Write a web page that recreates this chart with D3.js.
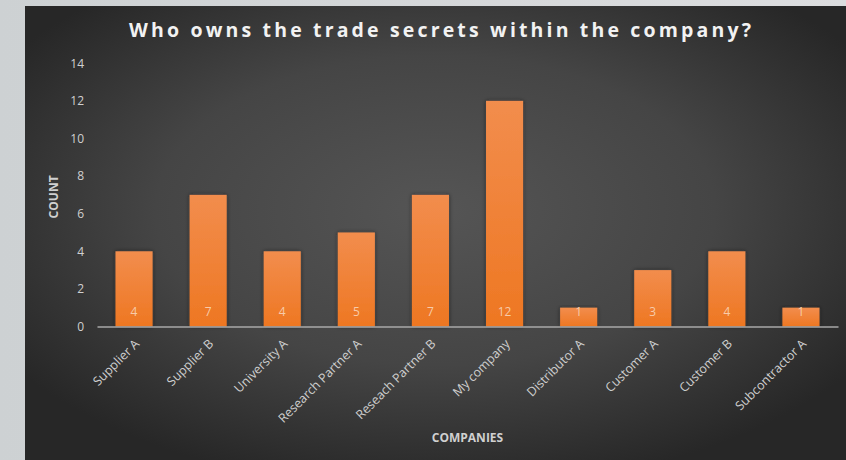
<!DOCTYPE html>
<html><head><meta charset="utf-8">
<script src="https://cdn.jsdelivr.net/npm/d3@7"></script>
<style>html,body{margin:0;padding:0;background:#d6d8da;overflow:hidden}</style>
</head><body>
<svg id="c" width="846" height="460"></svg>
<script>
const categories = ["Supplier A","Supplier B","University A","Research Partner A","Reseach Partner B","My company","Distributor A","Customer A","Customer B","Subcontractor A"];
const counts = [4,7,4,5,7,12,1,3,4,1];
const yTicks = [0,2,4,6,8,10,12,14];
const title = "Who owns the trade secrets within the company?";
const xTitle = "COMPANIES";
const yTitle = "COUNT";

const svg = d3.select("#c");
const defs = svg.append("defs");

const og = defs.append("linearGradient").attr("id","outer").attr("x1",0).attr("x2",1).attr("y1",0).attr("y2",0);
og.append("stop").attr("offset","0").attr("stop-color","#cdd1d3");
og.append("stop").attr("offset","1").attr("stop-color","#dcdddf");
svg.append("rect").attr("width",846).attr("height",460).attr("fill","url(#outer)");

const rg = defs.append("radialGradient").attr("id","panel").attr("cx","0.5").attr("cy","0.45").attr("r","0.62")
  .attr("gradientUnits","objectBoundingBox");
rg.append("stop").attr("offset","0").attr("stop-color","#555555");
rg.append("stop").attr("offset","0.55").attr("stop-color","#454545");
rg.append("stop").attr("offset","1").attr("stop-color","#272727");
svg.append("rect").attr("x",25).attr("y",6).attr("width",821).attr("height",454).attr("fill","url(#panel)");

const bg = defs.append("linearGradient").attr("id","bar").attr("x1",0).attr("x2",0).attr("y1",0).attr("y2",1);
bg.append("stop").attr("offset","0").attr("stop-color","#f28d4d");
bg.append("stop").attr("offset","1").attr("stop-color","#ee7722");

const sh = defs.append("filter").attr("id","sh").attr("x","-30%").attr("y","-10%").attr("width","160%").attr("height","120%");
sh.append("feDropShadow").attr("dx",0).attr("dy",0).attr("stdDeviation",2.2).attr("flood-color","#1a1a1a").attr("flood-opacity",0.6);

const x = d3.scaleBand().domain(categories).range([97, 838]).paddingInner(0.5).paddingOuter(0.25);
const y = d3.scaleLinear().domain([0, 14]).range([326.5, 63.3]);

const F = "'Open Sans', sans-serif";

// title
svg.append("text").attr("x",440).attr("y",37).attr("text-anchor","middle")
  .attr("font-family",F).attr("font-weight","bold").attr("font-size",19.5)
  .attr("fill","#f2f2f2").attr("textLength",622).attr("lengthAdjust","spacing").text(title);

// y axis
const yAxis = svg.append("g").attr("transform","translate(84,0)")
  .call(d3.axisLeft(y).tickValues(yTicks).tickSize(0).tickPadding(0));
yAxis.select(".domain").remove();
yAxis.selectAll("text").attr("font-family",F).attr("font-size",12).attr("fill","#d0d0d0");

// bars
svg.append("g").selectAll("rect").data(counts).join("rect")
  .attr("x",(d,i)=>x(categories[i])).attr("y",d=>y(d))
  .attr("width",x.bandwidth()).attr("height",d=>y(0)-y(d))
  .attr("fill","url(#bar)").attr("filter","url(#sh)");

// x axis
const xAxis = svg.append("g").attr("transform",`translate(0,${y(0)})`)
  .call(d3.axisBottom(x).tickSize(0).tickPadding(0));
xAxis.select(".domain").attr("stroke","#a9a9a9").attr("stroke-width",1.3);
xAxis.selectAll("text").attr("font-family",F).attr("font-size",12.5).attr("fill","#cfcfcf")
  .attr("text-anchor","end").attr("dy","0.35em")
  .attr("transform","translate(3,15) rotate(-45)").attr("x",0).attr("y",0);

// data labels
svg.append("g").selectAll("text").data(counts).join("text")
  .attr("x",(d,i)=>x(categories[i])+x.bandwidth()/2).attr("y",y(0)-11)
  .attr("text-anchor","middle").attr("font-family",F).attr("font-size",12)
  .attr("fill","#f7cba9").text(d=>d);

// axis titles
svg.append("text").attr("x",(97+838)/2).attr("y",442).attr("text-anchor","middle")
  .attr("font-family",F).attr("font-weight","bold").attr("font-size",12)
  .attr("fill","#d0d0d0").text(xTitle);
svg.append("text").attr("transform",`translate(58,${(y(0)+y(14))/2+2}) rotate(-90)`).attr("text-anchor","middle")
  .attr("font-family",F).attr("font-weight","bold").attr("font-size",12)
  .attr("fill","#d0d0d0").text(yTitle);
</script>
</body></html>
